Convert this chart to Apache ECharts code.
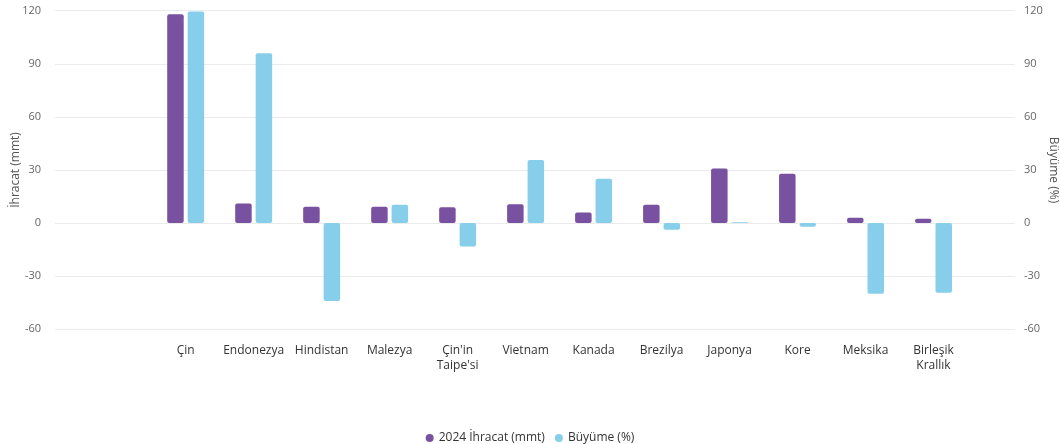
<!DOCTYPE html>
<html><head><meta charset="utf-8">
<script src="https://cdn.jsdelivr.net/npm/echarts@6/dist/echarts.min.js"></script>
<style>html,body{margin:0;padding:0;background:#fff}#c{width:1060px;height:444px}</style>
</head><body><div id="c"></div>
<script>
const categories = ["Çin","Endonezya","Hindistan","Malezya","Çin'in\nTaipe'si","Vietnam","Kanada","Brezilya","Japonya","Kore","Meksika","Birleşik\nKrallık"];
const exports2024 = [118, 11.1, 9.3, 9.3, 8.9, 10.7, 6.0, 10.4, 30.9, 27.9, 3.0, 2.5];
const growth = [119.6, 96.0, -44.0, 10.4, -13.2, 35.6, 25.1, -3.8, 0.5, -2.0, -39.9, -39.3];
const yTicks = [-60, -30, 0, 30, 60, 90, 120];

const chart = echarts.init(document.getElementById('c'));
const font = "'Open Sans', sans-serif";
const gTop = 10.7, gBottom = 114.7;
chart.setOption({
  animation: false,
  textStyle: {fontFamily: font},
  legend: {
    top: 427, left: 'center', itemWidth: 8, itemHeight: 8, itemGap: 10,
    icon: 'circle',
    textStyle: {fontSize: 12, color: '#333', fontFamily: font},
    data: ['2024 İhracat (mmt)', 'Büyüme (%)']
  },
  grid: [
    {left: 151.7, right: 92.5, top: gTop, bottom: gBottom, containLabel: false, outerBoundsMode: 'none'},
    {left: 55, right: 45, top: gTop, bottom: gBottom, containLabel: false, outerBoundsMode: 'none'}
  ],
  xAxis: [
    {type: 'category', gridIndex: 0, data: categories,
     axisLine: {show: false}, axisTick: {show: false},
     axisLabel: {color: '#333', fontSize: 12, margin: 14, interval: 0, lineHeight: 15}},
    {type: 'value', gridIndex: 1, min: 0, max: 1, show: false}
  ],
  yAxis: [
    {type: 'value', gridIndex: 0, min: yTicks[0], max: yTicks[yTicks.length-1], interval: 30, show: false, splitLine: {show: false}},
    {type: 'value', gridIndex: 0, min: yTicks[0], max: yTicks[yTicks.length-1], interval: 30, show: false, splitLine: {show: false}},
    {type: 'value', gridIndex: 1, min: yTicks[0], max: yTicks[yTicks.length-1], interval: 30,
     name: 'İhracat (mmt)', nameLocation: 'middle', nameGap: 33, nameMoveOverlap: false,
     nameTextStyle: {color: '#555', fontSize: 12},
     axisLine: {show: false}, axisTick: {show: false},
     axisLabel: {color: '#666', fontSize: 11, margin: 14},
     splitLine: {lineStyle: {color: '#ebebeb', width: 1}}},
    {type: 'value', gridIndex: 1, position: 'right', min: yTicks[0], max: yTicks[yTicks.length-1], interval: 30,
     name: 'Büyüme (%)', nameLocation: 'middle', nameGap: 32, nameRotate: -90, nameMoveOverlap: false,
     nameTextStyle: {color: '#555', fontSize: 12},
     axisLine: {show: false}, axisTick: {show: false},
     axisLabel: {color: '#666', fontSize: 11, margin: 9},
     splitLine: {show: false}}
  ],
  series: [
    {name: '2024 İhracat (mmt)', type: 'bar', xAxisIndex: 0, yAxisIndex: 0, data: exports2024,
     barWidth: 16.5, barGap: '24%', itemStyle: {color: '#7851A0', borderRadius: 2}, z: 3},
    {name: 'Büyüme (%)', type: 'bar', xAxisIndex: 0, yAxisIndex: 1, data: growth,
     barWidth: 16.5, barGap: '24%', itemStyle: {color: '#87CEEB', borderRadius: 2}, z: 3}
  ]
});
</script></body></html>
